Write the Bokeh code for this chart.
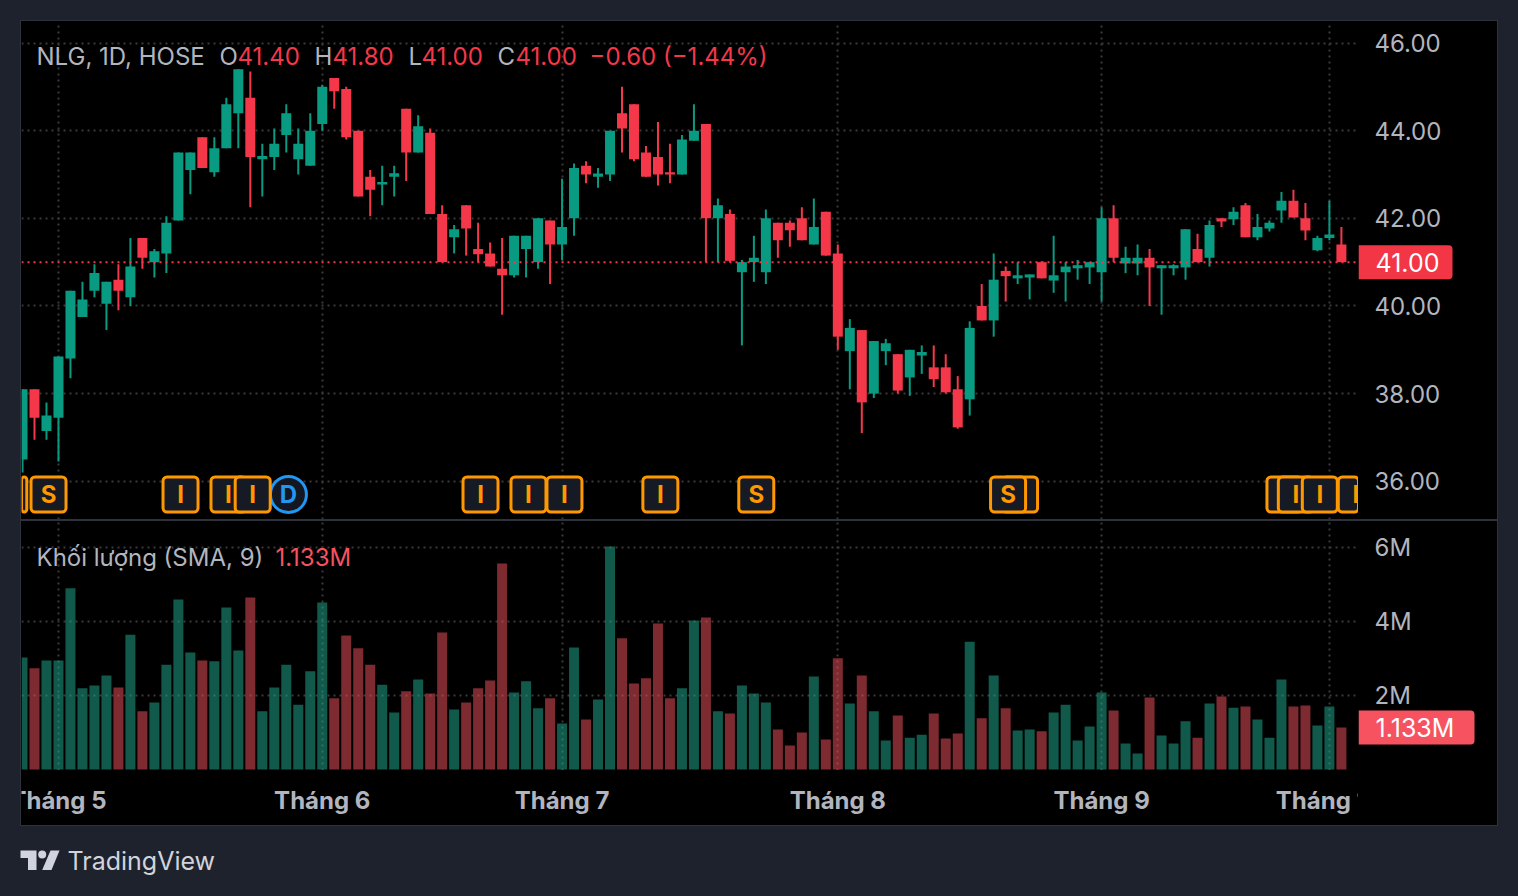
from bokeh.embed import file_html
from bokeh.resources import INLINE
from bokeh.plotting import figure
from bokeh.layouts import column, row
from bokeh.models import (ColumnDataSource, FixedTicker, Label, Span, Spacer,
                          NumeralTickFormatter, PrintfTickFormatter, Range1d, LinearAxis)
from bokeh.core.properties import value

opens = [36.5,38.1,37.15,37.45,38.8,39.75,40.35,40.05,40.6,40.2,41.55,41.0,41.2,41.95,43.1,43.85,43.05,43.6,44.4,44.75,
         43.35,43.4,43.9,43.35,43.2,44.15,45.2,44.95,44.0,42.95,42.77,42.95,44.5,43.5,43.95,42.1,41.57,42.3,41.3,41.2,
         40.85,40.7,41.3,41.0,41.95,41.4,42.0,43.2,42.95,43.0,44.4,44.6,43.5,43.4,43.05,43.0,43.77,44.15,42.0,42.1,
         40.77,41.0,40.77,41.9,41.9,42.0,41.4,42.15,41.2,38.97,39.45,38.0,38.97,38.9,38.37,38.87,38.6,38.6,38.1,37.87,
         40.0,39.67,40.8,40.63,40.65,41.0,40.58,40.77,40.86,40.88,40.77,42.0,40.97,40.97,41.1,40.86,40.86,40.88,41.3,41.1,
         42.0,41.98,42.3,41.57,41.77,42.18,42.4,42.0,41.27,41.55,41.4]
highs = [38.1,38.1,37.8,38.85,40.35,40.55,40.95,40.55,40.95,41.55,41.55,41.3,42.05,43.5,43.5,43.85,43.85,44.75,45.4,45.35,
         43.7,44.05,44.6,44.05,44.4,45.05,45.2,45.0,44.0,43.1,43.2,43.2,44.5,44.35,44.05,42.3,41.85,42.3,41.9,41.45,
         41.55,41.6,41.6,42.0,41.95,42.9,43.25,43.3,43.15,44.0,45.0,44.6,43.65,44.2,43.7,43.9,44.6,44.15,42.45,42.2,
         41.05,41.6,42.2,41.9,41.95,42.25,42.45,42.15,41.4,39.7,39.45,39.2,39.25,38.9,39.0,39.1,39.1,38.9,38.4,39.65,
         40.5,41.2,40.9,41.0,40.72,41.02,41.6,41.0,41.05,41.0,42.25,42.3,41.35,41.4,41.3,40.93,40.95,41.75,41.65,41.95,
         42.0,42.25,42.35,42.1,41.95,42.6,42.65,42.35,41.6,42.4,41.8]
lows = [36.2,36.95,36.95,36.45,38.35,39.75,40.2,39.45,39.9,40.0,40.85,40.65,40.75,41.95,42.55,43.15,42.95,43.6,43.6,42.25,
        42.5,43.1,43.5,43.0,43.2,44.0,44.5,43.8,42.5,42.05,42.3,42.5,42.85,43.5,42.1,41.0,41.2,41.15,41.0,40.9,
        39.8,40.65,40.65,40.85,40.5,41.05,41.6,42.8,42.7,42.85,43.5,43.3,42.95,42.75,42.8,43.0,43.77,41.0,41.0,41.0,
        39.1,40.55,40.5,41.1,41.35,41.5,41.4,41.15,39.0,38.1,37.1,37.9,38.65,38.0,37.95,38.45,38.15,38.0,37.2,37.5,
        39.67,39.3,40.1,40.5,40.15,40.63,40.3,40.1,40.6,40.5,40.1,41.0,40.75,40.7,40.0,39.8,40.7,40.6,41.0,40.9,
        41.8,41.85,41.57,41.5,41.7,41.9,42.02,41.5,41.25,41.5,41.0]
closes = [38.1,37.45,37.5,38.85,40.35,40.15,40.75,40.55,40.35,40.9,41.1,41.25,41.9,43.5,43.5,43.15,43.6,44.6,45.4,43.4,
          43.42,43.7,44.4,43.7,44.0,45.0,44.9,43.85,42.5,42.65,42.83,43.03,43.5,44.1,42.1,41.0,41.75,41.77,41.18,40.9,
          40.7,41.6,41.6,42.0,41.4,41.8,43.15,43.0,43.02,44.0,44.05,43.35,42.95,43.0,43.0,43.8,44.0,42.0,42.3,41.03,
          41.0,41.1,42.0,41.5,41.73,41.5,41.8,41.15,39.3,39.5,37.8,39.2,39.15,38.07,39.0,38.95,38.33,38.03,37.23,39.5,
          39.67,40.6,40.68,40.7,40.72,40.63,40.7,40.9,40.93,41.0,42.0,41.1,41.1,41.1,40.88,40.93,40.93,41.75,41.0,41.85,
          41.93,42.15,41.57,41.8,41.9,42.4,42.02,41.72,41.55,41.63,41.0]
volumes = [3.02,2.73,2.94,2.94,4.89,2.19,2.27,2.54,2.21,3.64,1.57,1.81,2.83,4.59,3.16,2.94,2.92,4.37,3.21,4.64,
           1.57,2.21,2.83,1.75,2.65,4.51,1.92,3.62,3.27,2.83,2.29,1.54,2.11,2.43,2.05,3.70,1.62,1.81,2.19,2.40,
           5.56,2.08,2.38,1.65,1.92,1.24,3.29,1.35,1.89,6.02,3.54,2.32,2.46,3.94,1.92,2.19,4.02,4.10,1.57,1.51,
           2.27,2.05,1.81,1.08,0.65,1.00,2.51,0.81,3.00,1.78,2.54,1.57,0.78,1.46,0.86,0.94,1.51,0.84,0.97,3.45,
           1.38,2.54,1.65,1.05,1.08,1.03,1.54,1.75,0.78,1.16,2.08,1.59,0.70,0.43,1.94,0.92,0.70,1.30,0.86,1.78,
           1.97,1.67,1.70,1.35,0.86,2.43,1.70,1.73,1.19,1.70,1.133]
month_idx = [3, 25, 45, 68, 90, 109]
month_lbl = ["Tháng 5", "Tháng 6", "Tháng 7", "Tháng 8", "Tháng 9", "Tháng 10"]
price_ticks = [36, 38, 40, 42, 44, 46]
volume_ticks = [2, 4, 6]
# event badges: bar index position, letter; listed in stacking order (later on top)
event_pos = [-1.1, 2.17, 13.18, 17.18, 22.18, 19.2, 38.2, 45.2, 42.2, 53.2, 61.2, 83.2, 82.2, 105.25, 106.2, 111.2, 108.2]
event_txt = ["I", "S", "I", "I", "D", "I", "I", "I", "I", "I", "S", "I", "S", "I", "I", "I", "I"]
last_price = 41.0
last_volume = 1.133

FONT = "Inter"
GREEN, RED = "#089B82", "#F5374A"
VGREEN, VRED = "#1fa488", "#e34c59"
LRED = "#F7525F"
TXT = "#b2b5be"
GRIDC = "#3a3a3c"
PX = 11.99            # pixels per bar
PRICE_PX = 43.83      # pixels per price unit
PRICE_TOP = 42.5      # page y of price 46
VOL_PX = 37.05        # pixels per million
LW = 1337             # chart pane width
RW = 139              # scale strip width


def price_at(py):
    return 46 - (py - PRICE_TOP) / PRICE_PX


n = len(closes)
xs = list(range(n))
up = [c >= o for o, c in zip(opens, closes)]
src = ColumnDataSource(dict(
    x=xs, o=opens, h=highs, l=lows, c=closes, v=volumes,
    top=[max(a, b) for a, b in zip(opens, closes)],
    bot=[min(a, b) for a, b in zip(opens, closes)],
    col=[GREEN if u else RED for u in up],
    vcol=[VGREEN if u else VRED for u in up],
))
x0 = (21 - 22) / PX
x1 = (1358 - 22) / PX
yr1 = dict(start=price_at(519), end=price_at(21))
yr2 = dict(start=-1 / VOL_PX, end=(769 - 521) / VOL_PX)


def base(**kw):
    return figure(output_backend="svg", toolbar_location=None, y_axis_location=None, x_axis_location=None,
                  background_fill_color="black", border_fill_color="black", outline_line_color=None,
                  min_border_left=0, min_border_right=0, min_border_top=0, min_border_bottom=0, margin=(0, 0, 0, 0),
                  **kw)


def grid(p, yticks):
    p.xgrid.ticker = FixedTicker(ticks=month_idx)
    p.ygrid.ticker = FixedTicker(ticks=yticks)
    for g in (p.xgrid, p.ygrid):
        g.grid_line_color = GRIDC
        g.grid_line_dash = "2 4"
        g.grid_line_width = 2


def strip(p, yticks, fmt, tag_value, tag_text, tag_w, tag_h, tag_col):
    p.grid.visible = False
    p.vbar([tag_w / 2], tag_w, [tag_value + tag_h], [tag_value - tag_h], fill_color=tag_col, line_color=None,
           border_radius=(0, 4, 4, 0))
    p.text([17], [tag_value], text=[tag_text], text_color="white", text_font=value(FONT), text_font_size="25px",
           text_align="left", text_baseline="middle")
    ax = LinearAxis(ticker=FixedTicker(ticks=yticks), formatter=fmt)
    ax.axis_line_color = None
    ax.major_tick_line_color = None
    ax.minor_tick_line_color = None
    ax.major_tick_out = 0
    ax.major_tick_in = 0
    ax.major_label_standoff = 16 - RW
    ax.major_label_text_color = TXT
    ax.major_label_text_font = FONT
    ax.major_label_text_font_size = "24px"
    p.add_layout(ax, "right")


def lab(p, x, y, text, color=TXT):
    p.add_layout(Label(x=x, y=y, x_units="screen", y_units="data", text=text, text_color=color,
                       text_font=FONT, text_font_size="24px", text_baseline="middle"))


# ---- price pane
p1 = base(width=LW, height=498, x_range=Range1d(x0, x1), y_range=Range1d(**yr1))
grid(p1, price_ticks)
p1.segment("x", "l", "x", "h", source=src, line_color="col", line_width=2)
p1.vbar("x", 10 / PX, "top", "bot", source=src, fill_color="col", line_color=None)
p1.add_layout(Span(location=last_price, dimension="width", line_color=RED, line_dash="2 4", line_width=2))

evy = price_at(494)
evh = 17.5 / PRICE_PX
for xp, t in zip(event_pos, event_txt):
    if t == "D":
        p1.scatter([xp], [evy], size=36, marker="circle", fill_color="#131722", line_color="#2196F3", line_width=3)
        tc = "#2196F3"
    else:
        p1.vbar([xp], 35 / PX, [evy + evh], [evy - evh], fill_color="#161a24", line_color="#FF9800", line_width=3,
                border_radius=4)
        tc = "#FF9800"
    p1.text([xp], [evy], text=[t], text_color=tc, text_font=value(FONT), text_font_size="24px",
            text_font_style="bold", text_align="center", text_baseline="middle")

legend_y = price_at(55.5)
for x, t, c in [(15, "NLG, 1D, HOSE", TXT), (198, "O", TXT), (216, "41.40", RED), (293, "H", TXT), (311, "41.80", RED),
                (387, "L", TXT), (400, "41.00", RED), (476, "C", TXT), (494, "41.00", RED),
                (568, "−0.60 (−1.44%)", RED)]:
    lab(p1, x, legend_y, t, c)

s1 = base(width=RW, height=498, x_range=Range1d(0, RW), y_range=Range1d(**yr1))
strip(s1, price_ticks, NumeralTickFormatter(format="0.00"), last_price, "41.00", 94, 17 / PRICE_PX, "#F23645")

# ---- volume pane
p2 = base(width=LW, height=249, x_range=Range1d(x0, x1), y_range=Range1d(**yr2))
grid(p2, volume_ticks)
p2.vbar("x", 10 / PX, "v", 0, source=src, fill_color="vcol", fill_alpha=0.55, line_color=None)
vleg_y = (769 - 557) / VOL_PX
lab(p2, 15, vleg_y, "Khối lượng (SMA, 9)")
lab(p2, 254, vleg_y, "1.133M", LRED)

s2 = base(width=RW, height=249, x_range=Range1d(0, RW), y_range=Range1d(**yr2))
strip(s2, volume_ticks, PrintfTickFormatter(format="%dM"), last_volume, "1.133M", 116, 17 / VOL_PX, LRED)

# ---- time scale: month labels cut by the pane edges, as in the original
t = base(width=LW, height=55, x_range=Range1d(x0, x1), y_range=Range1d(825, 770))
t.grid.visible = False
t.text(month_idx, [799.5] * len(month_idx), text=month_lbl, text_color=TXT, text_font=value(FONT),
       text_font_size="24px", text_font_style="bold", text_align="center", text_baseline="middle")

# ---- footer with logo
f = figure(width=1518, height=62, x_range=Range1d(0, 1518), y_range=Range1d(888, 826),
           output_backend="svg", toolbar_location=None, x_axis_location=None, y_axis_location=None,
           background_fill_color="#1e222d", border_fill_color="#1e222d", outline_line_color=None,
           min_border_left=0, min_border_right=0, min_border_top=0, min_border_bottom=0)
f.grid.visible = False
LOGO = "#d1d4dc"
f.patch([20, 36, 36, 27.5, 27.5, 20], [850, 850, 869.5, 869.5, 857.5, 857.5], fill_color=LOGO, line_color=None)
f.scatter([41.7], [854], size=8, marker="circle", fill_color=LOGO, line_color=None)
f.patch([50, 59, 51, 41.7], [850, 850, 869.5, 869.5], fill_color=LOGO, line_color=None)
f.text([67], [860.5], text=["TradingView"], text_color=LOGO, text_font=value(FONT), text_font_size="25px",
       text_align="left", text_baseline="middle")

BLACK = {"background": "black"}
r1 = row(p1, s1, spacing=0, margin=(1, 1, 0, 1), styles=BLACK)
r2 = row(p2, s2, spacing=0, margin=(2, 1, 0, 1), styles=BLACK)
r3 = row(t, Spacer(width=RW, height=55), spacing=0, margin=(0, 1, 1, 1), styles=BLACK)
panel = column(r1, r2, r3, spacing=0, margin=(20, 0, 0, 20), styles={"background": "#2e323d"})
page = column(panel, f, spacing=0)

html = file_html(page, INLINE).replace("</head>", "<style>html,body{background:#1e222d}</style></head>")
open("out.html", "w").write(html)
